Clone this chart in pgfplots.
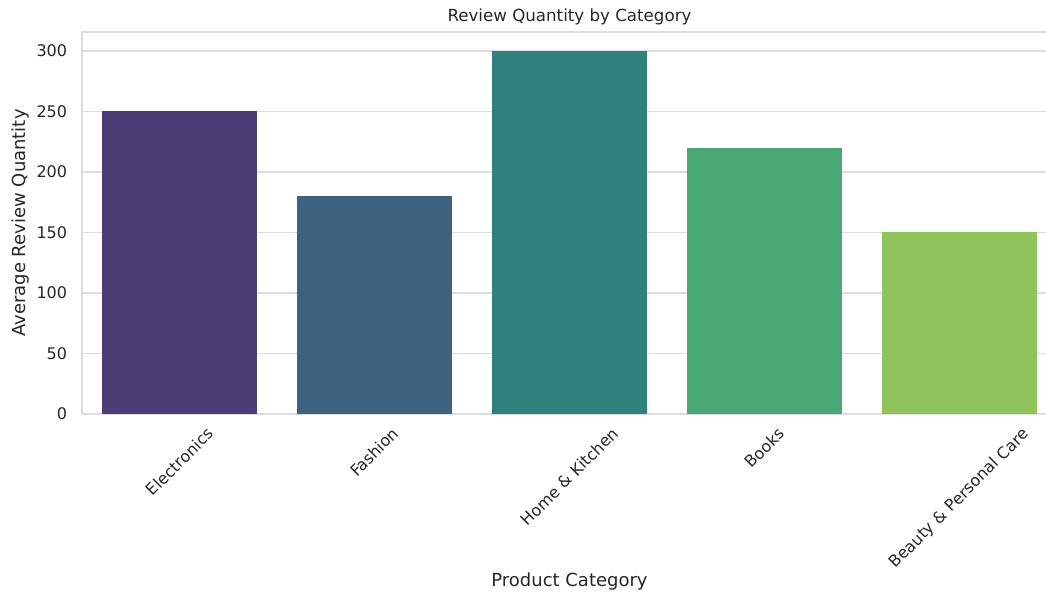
\documentclass[border=0pt]{standalone}
\usepackage{pgfplots}
\pgfplotsset{compat=1.18}
\usepackage{fontspec}
\setmainfont{DejaVu Sans}
\definecolor{c1}{HTML}{4A3E76}
\definecolor{c2}{HTML}{3E6381}
\definecolor{c3}{HTML}{2E817D}
\definecolor{c4}{HTML}{48A775}
\definecolor{c5}{HTML}{8FC45A}
\definecolor{gridc}{HTML}{DDDDDD}
\definecolor{txt}{HTML}{262626}
\begin{document}
\begin{tikzpicture}
\begin{axis}[
  name=ax,
  scale only axis,
  width=731.25pt, height=286.5pt,
  xmin=-0.5, xmax=4.5, ymin=0, ymax=315.7,
  axis line style={gridc, line width=0.9pt},
  ymajorgrids, grid style={gridc, line width=0.9pt},
  major tick length=0pt,
  xtick={0,1,2,3,4},
  xticklabels={\rotatebox{45}{Electronics},\rotatebox{45}{Fashion},\rotatebox{45}{Home \& Kitchen},\rotatebox{45}{Books},\rotatebox{45}{Beauty \& Personal Care}},
  xticklabel style={anchor=north, font=\fontsize{12}{14}\selectfont, text=txt, inner sep=0pt, yshift=-9pt},
  ytick={0,50,100,150,200,250,300},
  yticklabel style={font=\fontsize{12}{14}\selectfont, text=txt, inner sep=0pt, xshift=-11pt},
  /pgf/number format/assume math mode=true,
  every axis title/.style={at={(0.5,1)}, anchor=center, yshift=11.25pt, font=\fontsize{12.5}{15}\selectfont, text=txt},
  title={Review Quantity by Category},
  xlabel={Product Category},
  ylabel={Average Review Quantity},
  every axis x label/.style={at={(0.5,0)}, anchor=center, yshift=-126pt, font=\fontsize{13.5}{16}\selectfont, text=txt},
  every axis y label/.style={at={(0,0.5)}, anchor=center, rotate=90, yshift=46pt, font=\fontsize{13.5}{16}\selectfont, text=txt},
  ybar, bar width=0.79, bar shift=0pt,
]
\addplot[fill=c1, draw=none] coordinates {(0,250)};
\addplot[fill=c2, draw=none] coordinates {(1,180)};
\addplot[fill=c3, draw=none] coordinates {(2,300)};
\addplot[fill=c4, draw=none] coordinates {(3,220)};
\addplot[fill=c5, draw=none] coordinates {(4,150)};
\end{axis}
\pgfresetboundingbox
\path[use as bounding box] ([shift={(-61.5pt,-136.5pt)}]ax.south west) rectangle ++(784.5pt,447pt);
\end{tikzpicture}
\end{document}
